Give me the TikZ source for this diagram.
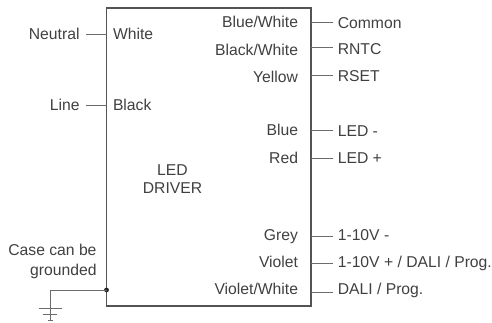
\documentclass[tikz,border=0pt]{standalone}
\usepackage{fontspec}
\setmainfont{Liberation Sans}
\definecolor{ink}{gray}{0.25}
\definecolor{wire}{gray}{0.42}
\tikzset{
  x=1pt,y=-1pt,
  txt/.style={inner sep=0pt,outer sep=0pt,text=ink,font=\fontsize{15.7}{20}\selectfont},
  lft/.style={txt,anchor=base west},
  rgt/.style={txt,anchor=base east},
  wirestyle/.style={draw=wire,line width=1pt},
  boxstyle/.style={draw=ink!90,line width=1.4pt},
}
\begin{document}
\begin{tikzpicture}
\useasboundingbox (0,0) rectangle (492,322);
\node[boxstyle,minimum width=204.5pt,minimum height=298pt,inner sep=0pt,outer sep=0pt,anchor=north west] (box) at (106.5,8) {};
% inside left
\node[lft] (iwhite) at (113,39) {White};
\node[lft] (iblack) at (113,110) {Black};
% inside right
\node[rgt] (ibw) at (298,27.7) {Blue/White};
\node[rgt] (iblkw) at (298,55) {Black/White};
\node[rgt] (iy) at (298,82) {Yellow};
\node[rgt] (ibl) at (298,135.7) {Blue};
\node[rgt] (ir) at (298,163) {Red};
\node[rgt] (ig) at (298,240) {Grey};
\node[rgt] (iv) at (298,267.7) {Violet};
\node[rgt] (ivw) at (298,294.3) {Violet/White};
% centre
\node[txt,align=center,anchor=center,font=\fontsize{15.7}{18.3}\selectfont] (drv) at (172.5,179) {LED\\DRIVER};
% outside left
\node[rgt] (neutral) at (79.5,39) {Neutral};
\node[rgt] (line) at (79.5,110) {Line};
\node[txt,align=right,anchor=north east] (case) at (96.5,244) {Case can be\\grounded};
% outside right
\node[lft] (common) at (337.8,28) {Common};
\node[lft] (rntc) at (337.8,54) {RNTC};
\node[lft] (rset) at (337.8,81) {RSET};
\node[lft] (ledm) at (337.8,136) {LED -};
\node[lft] (ledp) at (337.8,163.3) {LED +};
\node[lft] (v110m) at (337.8,240.3) {1-10V -};
\node[lft] (v110p) at (337.8,267.7) {1-10V + / DALI / Prog.};
\node[lft] (dali) at (337.8,294.3) {DALI / Prog.};
% connectors
\foreach \n/\y in {common/22.7,rntc/47.3,rset/75.3,ledm/130,ledp/158,v110m/236.3,v110p/263,dali/292}{
  \coordinate (s\n) at (box.east |- 0,\y);
  \coordinate (e\n) at (332.5,\y);
  \draw[wirestyle] (s\n) -- (e\n);
}
\foreach \n/\y in {neutral/34.3,line/105}{
  \coordinate (s\n) at (box.west |- 0,\y);
  \coordinate (e\n) at (86,\y);
  \draw[wirestyle] (s\n) -- (e\n);
}
% ground
\coordinate (gj) at (box.west |- 0,290);
\coordinate (gc) at (50,290);
\coordinate (g1) at (50,308);
\coordinate (g2) at (50,314);
\coordinate (g3) at (50,320);
\fill[black!85] (gj) circle (2.4);
\draw[wirestyle] (gj) -- (gc) -- (g1);
\draw[wirestyle] ([xshift=-11.5pt]g1) -- ([xshift=11.5pt]g1);
\draw[wirestyle] ([xshift=-7pt]g2) -- ([xshift=7pt]g2);
\draw[wirestyle] ([xshift=-2.5pt]g3) -- ([xshift=2.5pt]g3);
\draw[wirestyle] (g1) -- (g3);
\end{tikzpicture}
\end{document}
